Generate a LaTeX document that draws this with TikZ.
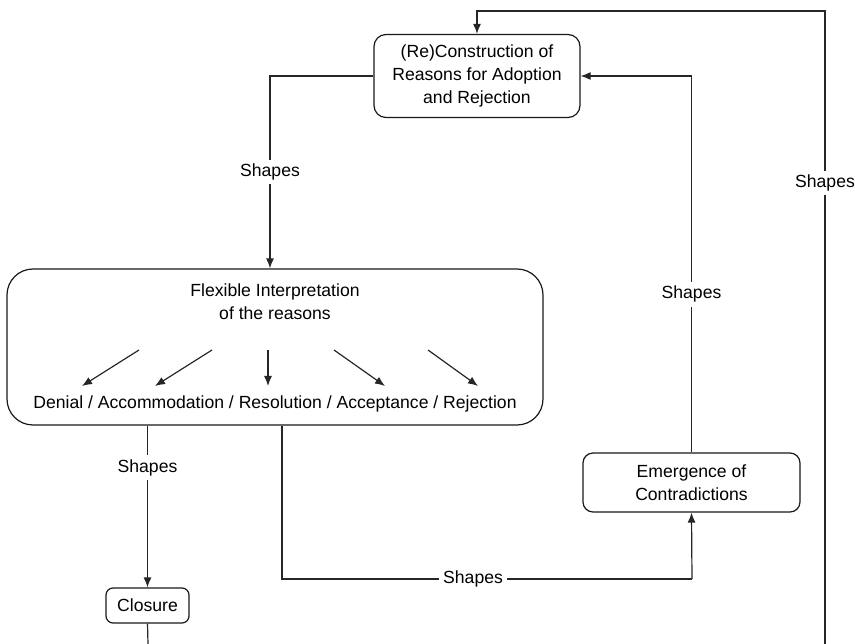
\documentclass[tikz,border=0pt]{standalone}
\usepackage{fontspec}
\setmainfont{Liberation Sans}
\usetikzlibrary{positioning}
\usetikzlibrary{arrows.meta}

\tikzset{
  stage/.style={draw=black!90, line width=1.2pt, rounded corners=12pt, align=center, inner sep=0pt, font=\fontsize{17.6}{23}\selectfont},
  plain/.style={align=center, inner sep=0pt, font=\fontsize{17.6}{23}\selectfont},
  flow/.style={draw=black!85, line width=1.2pt, -{Latex[length=10pt,width=8pt]}},
  bare/.style={draw=black!85, line width=1.2pt},
  shapelabel/.style={fill=white, inner sep=4pt, font=\fontsize{17.6}{23}\selectfont},
}

\begin{document}
\begin{tikzpicture}[x=1pt,y=-1pt]
  % Frame
  \useasboundingbox (0,0) rectangle (855,644);

  % Boxes
  \node[stage, minimum width=206pt, minimum height=83pt] (recon) at (477,76) {(Re)Construction of\\Reasons for Adoption\\and Rejection};
  \node[stage, rounded corners=26pt, minimum width=536pt, minimum height=156pt] (flex) at (275,347) {};
  \node[plain] (flextitle) at (275,302) {Flexible Interpretation\\of the reasons};
  \node[plain] (outcomes) at (275,404) {Denial / Accommodation / Resolution / Acceptance / Rejection};
  \node[stage, rounded corners=10pt, minimum width=217pt, minimum height=59pt] (emerg) at (691.5,482.5) {Emergence of\\Contradictions};
  \node[stage, rounded corners=7pt, minimum width=83pt, minimum height=35pt] (closure) at (147.5,605.5) {Closure};

  % Ends cut by the frame
  \coordinate (cutL) at (148,644);
  \coordinate (cutR) at (825,644);
  \coordinate (ret) at (477,11);
  \coordinate (low) at (692,579);

  % Arrows inside the interpretation box
  \foreach \a/\b in {139/82, 212/155, 268/268, 334/385, 428/478}
    \draw[flow] (\a,350) -- (\b,386);

  % Connectors
  \draw[flow] (recon.west) -| node[shapelabel, pos=0.75] {Shapes} ([xshift=-5pt]flex.north);
  \draw[flow] (emerg.north) |- node[shapelabel, pos=0.21] {Shapes} (recon.east);
  \draw[flow] (flex.south -| closure.north) -- node[shapelabel, pos=0.26] {Shapes} (closure.north);
  \draw[bare] ([xshift=7pt]flex.south) |- node[shapelabel, pos=0.733] {Shapes} (low);
  \draw[flow] (low) -- (emerg.south);
  \draw[bare] (closure.south) -- (cutL);
  \draw[flow] (cutR) |- node[shapelabel, pos=0.364] {Shapes} (ret) -- (recon.north);
\end{tikzpicture}
\end{document}
